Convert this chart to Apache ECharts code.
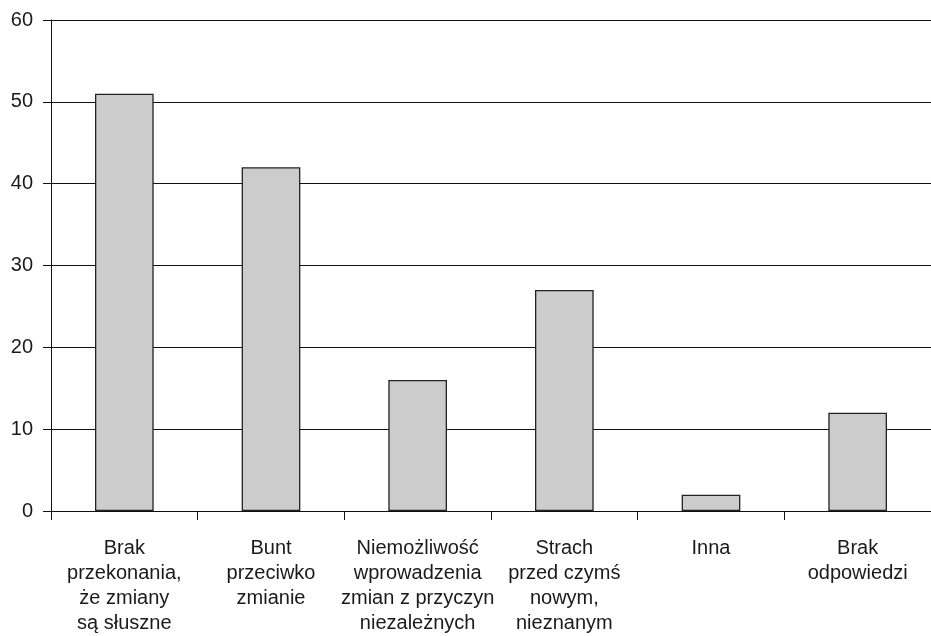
<!DOCTYPE html>
<html>
<head>
<meta charset="utf-8">
<script src="https://cdn.jsdelivr.net/npm/echarts@6/dist/echarts.min.js"></script>
<style>
  html, body { margin: 0; padding: 0; background: #fff; }
  #chart { width: 931px; height: 636px; }
</style>
</head>
<body>
<div id="chart"></div>
<script>
// Reasons for resistance to change (counts)
const categories = [
  'Brak\nprzekonania,\nże zmiany\nsą słuszne',
  'Bunt\nprzeciwko\nzmianie',
  'Niemożliwość\nwprowadzenia\nzmian z przyczyn\nniezależnych',
  'Strach\nprzed czymś\nnowym,\nnieznanym',
  'Inna',
  'Brak\nodpowiedzi'
];
const values = [51, 42, 16, 27, 2, 12];
const yTicks = { min: 0, max: 60, interval: 10 };

const textStyle = {
  fontFamily: '"Liberation Sans", Arial, sans-serif',
  fontSize: 20,
  color: '#1a1a1a'
};

const chart = echarts.init(document.getElementById('chart'), null, { renderer: 'canvas' });
chart.setOption({
  animation: false,
  backgroundColor: '#ffffff',
  grid: { left: 51, top: 20, width: 883, height: 491, containLabel: false },
  xAxis: {
    type: 'category',
    data: categories,
    boundaryGap: true,
    axisLine: { show: true, lineStyle: { color: '#111', width: 1 } },
    axisTick: { show: true, length: 9, alignWithLabel: false, lineStyle: { color: '#111', width: 1 } },
    axisLabel: Object.assign({ margin: 25, lineHeight: 25, align: 'center', interval: 0 }, textStyle),
    splitLine: { show: false }
  },
  yAxis: {
    type: 'value',
    min: yTicks.min,
    max: yTicks.max,
    interval: yTicks.interval,
    axisLine: { show: true, lineStyle: { color: '#111', width: 1 } },
    axisTick: { show: true, length: 8, inside: false, lineStyle: { color: '#111', width: 1 } },
    axisLabel: Object.assign({ margin: 18 }, textStyle),
    splitLine: { show: true, lineStyle: { color: '#111', width: 1 } }
  },
  series: [{
    type: 'bar',
    data: values,
    barWidth: '40%',
    itemStyle: { color: '#cccccc', borderColor: '#222', borderWidth: 1.3 },
    z: 3
  }]
});
</script>
</body>
</html>
